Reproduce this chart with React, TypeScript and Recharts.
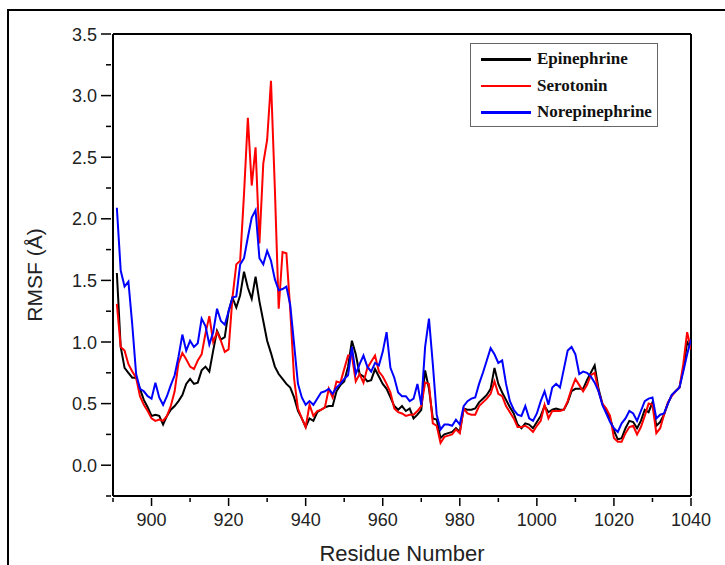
import React from "react";
import { LineChart, Line, XAxis, YAxis, Legend, ReferenceLine } from "recharts";

// residue numbers 891..1040
const residues: number[] = Array.from({ length: 150 }, (_, i) => 891 + i);

const epinephrine = [
  1.56, 0.96, 0.79, 0.75, 0.71, 0.71, 0.62, 0.53, 0.47, 0.40,
  0.41, 0.40, 0.33, 0.40, 0.45, 0.48, 0.52, 0.57, 0.66, 0.70,
  0.66, 0.67, 0.77, 0.80, 0.76, 0.93, 1.09, 1.02, 1.04, 1.25,
  1.36, 1.28, 1.38, 1.57, 1.44, 1.35, 1.53, 1.33, 1.17, 1.01,
  0.91, 0.80, 0.74, 0.70, 0.66, 0.63, 0.55, 0.44, 0.38, 0.31,
  0.38, 0.36, 0.43, 0.45, 0.47, 0.48, 0.48, 0.60, 0.65, 0.68,
  0.80, 1.01, 0.90, 0.74, 0.72, 0.68, 0.69, 0.78, 0.72, 0.66,
  0.62, 0.55, 0.48, 0.45, 0.48, 0.44, 0.46, 0.38, 0.41, 0.45,
  0.77, 0.62, 0.38, 0.37, 0.22, 0.25, 0.26, 0.27, 0.30, 0.27,
  0.46, 0.45, 0.45, 0.46, 0.51, 0.54, 0.57, 0.62, 0.79, 0.66,
  0.59, 0.53, 0.47, 0.42, 0.33, 0.30, 0.34, 0.33, 0.30, 0.35,
  0.40, 0.48, 0.43, 0.45, 0.46, 0.45, 0.45, 0.51, 0.60, 0.62,
  0.62, 0.62, 0.69, 0.75, 0.81, 0.62, 0.50, 0.44, 0.38, 0.28,
  0.21, 0.22, 0.30, 0.36, 0.35, 0.30, 0.36, 0.45, 0.43, 0.51,
  0.32, 0.35, 0.41, 0.50, 0.57, 0.60, 0.63, 0.78, 1.00, 0.95,
];

const serotonin = [
  1.31, 0.96, 0.93, 0.82, 0.76, 0.71, 0.56, 0.49, 0.44, 0.38,
  0.36, 0.37, 0.36, 0.40, 0.48, 0.60, 0.83, 0.91, 0.86, 0.80,
  0.78, 0.85, 0.90, 1.07, 1.21, 1.00, 1.08, 1.01, 0.92, 0.94,
  1.36, 1.63, 1.66, 2.20, 2.82, 2.27, 2.58, 1.80, 2.45, 2.64,
  3.12, 2.25, 1.27, 1.73, 1.72, 1.26, 0.70, 0.46, 0.38, 0.31,
  0.49, 0.40, 0.44, 0.45, 0.47, 0.62, 0.55, 0.68, 0.67, 0.78,
  0.89, 0.89, 0.68, 0.74, 0.67, 0.79, 0.84, 0.89, 0.76, 0.72,
  0.66, 0.59, 0.46, 0.43, 0.42, 0.40, 0.41, 0.41, 0.44, 0.48,
  0.67, 0.66, 0.34, 0.32, 0.18, 0.23, 0.24, 0.25, 0.29, 0.26,
  0.46, 0.42, 0.41, 0.41, 0.48, 0.51, 0.54, 0.58, 0.68, 0.58,
  0.56, 0.48, 0.43, 0.38, 0.31, 0.31, 0.32, 0.30, 0.27, 0.32,
  0.36, 0.49, 0.38, 0.44, 0.44, 0.44, 0.45, 0.52, 0.62, 0.70,
  0.65, 0.60, 0.65, 0.73, 0.75, 0.60, 0.50, 0.46, 0.40, 0.22,
  0.19, 0.19, 0.26, 0.31, 0.32, 0.25, 0.31, 0.40, 0.50, 0.49,
  0.26, 0.30, 0.41, 0.51, 0.56, 0.60, 0.63, 0.82, 1.08, 0.94,
];

const norepinephrine = [
  2.09, 1.58, 1.45, 1.49, 1.14, 0.74, 0.62, 0.60, 0.56, 0.54,
  0.67, 0.55, 0.49, 0.56, 0.65, 0.73, 0.88, 1.06, 0.93, 1.01,
  0.96, 0.99, 1.19, 1.13, 0.98, 1.08, 1.27, 1.17, 1.14, 1.25,
  1.36, 1.37, 1.63, 1.68, 1.85, 2.01, 2.07, 1.68, 1.63, 1.74,
  1.66, 1.51, 1.42, 1.43, 1.45, 1.30, 0.98, 0.66, 0.55, 0.49,
  0.52, 0.49, 0.54, 0.59, 0.60, 0.62, 0.58, 0.63, 0.66, 0.70,
  0.73, 0.96, 0.74, 0.82, 0.89, 0.80, 0.76, 0.83, 0.81, 0.92,
  1.08, 0.79, 0.71, 0.59, 0.56, 0.56, 0.52, 0.54, 0.66, 0.49,
  0.96, 1.19, 0.82, 0.41, 0.29, 0.33, 0.33, 0.32, 0.37, 0.33,
  0.48, 0.52, 0.54, 0.55, 0.66, 0.75, 0.85, 0.95, 0.90, 0.83,
  0.85, 0.66, 0.52, 0.45, 0.41, 0.40, 0.48, 0.38, 0.36, 0.42,
  0.52, 0.60, 0.49, 0.63, 0.66, 0.63, 0.78, 0.93, 0.96, 0.90,
  0.74, 0.76, 0.75, 0.72, 0.67, 0.60, 0.49, 0.42, 0.35, 0.30,
  0.27, 0.34, 0.38, 0.44, 0.42, 0.36, 0.44, 0.52, 0.54, 0.55,
  0.38, 0.41, 0.42, 0.50, 0.57, 0.60, 0.63, 0.76, 0.90, 1.02,
];

const xTicks = [890, 900, 910, 920, 930, 940, 950, 960, 970, 980, 990, 1000, 1010, 1020, 1030, 1040];
const xLabels = [900, 920, 940, 960, 980, 1000, 1020, 1040];
const yTicks = [-0.25, 0, 0.25, 0.5, 0.75, 1, 1.25, 1.5, 1.75, 2, 2.25, 2.5, 2.75, 3, 3.25, 3.5];
const yLabels = [0, 0.5, 1, 1.5, 2, 2.5, 3, 3.5];

const series = [
  { key: "epinephrine", name: "Epinephrine", color: "#000000" },
  { key: "serotonin", name: "Serotonin", color: "#ff0000" },
  { key: "norepinephrine", name: "Norepinephrine", color: "#0000ff" },
];

const data = residues.map((r, i) => ({
  residue: r,
  epinephrine: epinephrine[i],
  serotonin: serotonin[i],
  norepinephrine: norepinephrine[i],
}));

const sans = "'Liberation Sans', Arial, sans-serif";

const XTick = (props: any) => {
  const { x, y, payload } = props;
  const major = xLabels.includes(payload.value);
  return (
    <g>
      <line x1={x} x2={x} y1={y} y2={y + (major ? 8 : 4)} stroke="#000" strokeWidth={1.5} />
      {major && (
        <text x={x} y={y + 28} textAnchor="middle" fontSize={18} fontFamily={sans} fill="#222">
          {payload.value}
        </text>
      )}
    </g>
  );
};

const YTick = (props: any) => {
  const { x, y, payload } = props;
  const major = yLabels.includes(payload.value);
  return (
    <g>
      <line x1={x - (major ? 10 : 5)} x2={x} y1={y} y2={y} stroke="#000" strokeWidth={1.5} />
      {major && (
        <text x={x - 14} y={y + 6.5} textAnchor="end" fontSize={18} fontFamily={sans} fill="#222">
          {payload.value.toFixed(1)}
        </text>
      )}
    </g>
  );
};

const LegendBox = () => (
  <div
    style={{
      border: "1.5px solid #666",
      width: 188,
      height: 84,
      boxSizing: "border-box",
      background: "#fff",
      paddingTop: 2,
    }}
  >
    {series.map((s) => (
      <div key={s.key} style={{ display: "flex", alignItems: "center", height: 26.5 }}>
        <div style={{ width: 50, height: 2.5, background: s.color, marginLeft: 10, marginRight: 6 }} />
        <span
          style={{
            fontFamily: "'Liberation Serif', 'Times New Roman', serif",
            fontWeight: "bold",
            fontSize: 17,
            color: "#111",
          }}
        >
          {s.name}
        </span>
      </div>
    ))}
  </div>
);

export default function App() {
  return (
    <div style={{ position: "absolute", left: 0, top: 0, width: 725, height: 565, background: "#fff", overflow: "hidden" }}>
      <div
        style={{
          position: "absolute",
          left: 7,
          top: 9,
          width: 730,
          height: 600,
          borderTop: "2px solid #000",
          borderLeft: "2px solid #000",
        }}
      />
      <div style={{ position: "absolute", left: 0, top: 0 }}>
        <LineChart width={725} height={565} data={data} margin={{ top: 34, right: 34, left: 0, bottom: 0 }}>
          <XAxis
            dataKey="residue"
            type="number"
            domain={[890, 1040]}
            ticks={xTicks}
            interval={0}
            height={69}
            tickSize={0}
            tickLine={false}
            tick={<XTick />}
            axisLine={{ stroke: "#000", strokeWidth: 2 }}
            allowDataOverflow
          />
          <YAxis
            type="number"
            domain={[-0.25, 3.5]}
            ticks={yTicks}
            interval={0}
            width={113}
            tickSize={0}
            tickLine={false}
            tick={<YTick />}
            axisLine={{ stroke: "#000", strokeWidth: 2 }}
            allowDataOverflow
          />
          <ReferenceLine y={3.5} stroke="#000" strokeWidth={2} />
          <ReferenceLine x={1040} stroke="#000" strokeWidth={2} />
          {series.map((s) => (
            <Line
              key={s.key}
              dataKey={s.key}
              name={s.name}
              stroke={s.color}
              strokeWidth={2}
              dot={false}
              isAnimationActive={false}
            />
          ))}
          <Legend
            layout="vertical"
            align="center"
            verticalAlign="middle"
            content={<LegendBox />}
            wrapperStyle={{ position: "absolute", left: 470, top: 43, width: 188, height: 84 }}
          />
          <text
            x={42}
            y={275}
            transform="rotate(-90 42 275)"
            textAnchor="middle"
            fontSize={21}
            fontFamily={sans}
            fill="#222"
          >
            RMSF (Å)
          </text>
          <text x={402} y={561} textAnchor="middle" fontSize={22} fontFamily={sans} fill="#222">
            Residue Number
          </text>
        </LineChart>
      </div>
    </div>
  );
}
